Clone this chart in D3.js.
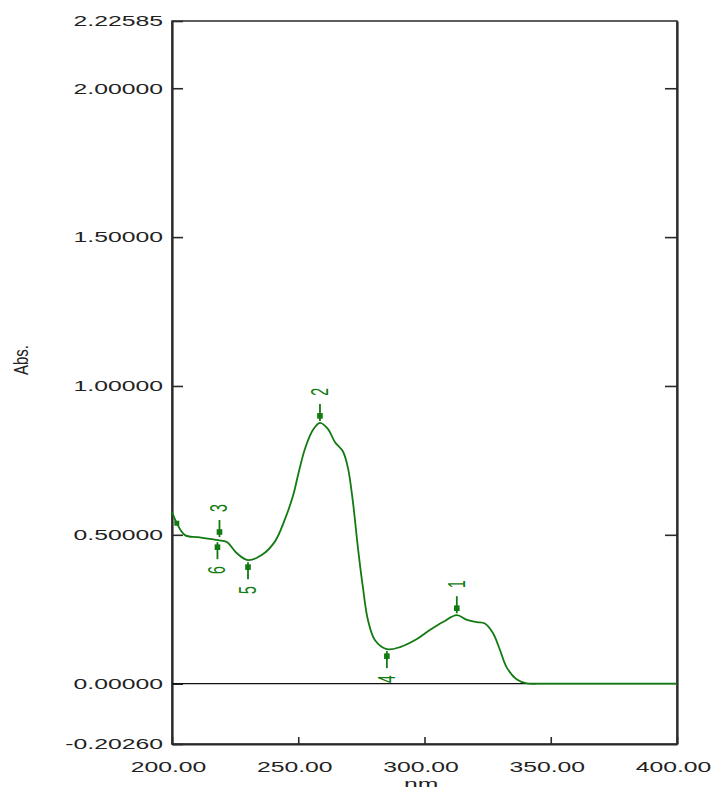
<html>
<head>
  <meta charset="utf-8">
  <title>Abs spectrum</title>
  <script src="https://cdn.jsdelivr.net/npm/d3@7"></script>
  <style>
    body { margin: 0; background: #fff; }
    text { font-family: "Liberation Sans", Arial, sans-serif; }
  </style>
</head>
<body>
  <svg id="chart" width="711" height="787"></svg>
  <script>
    // spectrum
    var wavelength = [200, 201.9, 205.1, 210.3, 218.2, 221.7, 225.6, 230.1, 235.5, 240.8, 244.7, 247.9, 249.9,
      252.7, 255.8, 258.6, 261.8, 264.5, 267.7, 269.7, 271.7, 273.6, 275.6, 277.6, 280.4, 285.1, 290.3, 297.0,
      302.1, 307.3, 312.8, 316.8, 320.7, 323.9, 327.1, 329.9, 332.6, 336.6, 340.5, 345, 350, 400];
    var absorbance = [0.577, 0.539, 0.499, 0.492, 0.482, 0.476, 0.439, 0.415, 0.432, 0.478, 0.552, 0.630, 0.700,
      0.790, 0.852, 0.876, 0.855, 0.812, 0.780, 0.724, 0.607, 0.459, 0.324, 0.214, 0.146, 0.116, 0.123, 0.150,
      0.180, 0.207, 0.230, 0.214, 0.207, 0.202, 0.170, 0.113, 0.054, 0.014, 0.001, 0, 0, 0];

    // picked peaks / valleys
    var peakNo = ["1", "2", "3", "4", "5", "6"];
    var peakNm = [312.8, 258.6, 218.8, 285.1, 230.1, 218.0];
    var peakAbs = [0.230, 0.876, 0.486, 0.116, 0.415, 0.482];
    var peakKind = ["peak", "peak", "peak", "valley", "valley", "valley"];

    var yTicks = [-0.2026, 0, 0.5, 1, 1.5, 2, 2.22585];
    var xTicks = [200, 250, 300, 350, 400];

    var plotL = 172, plotR = 677, plotT = 21, plotB = 744;
    var green = "#117a11", axisCol = "#2a2a2a";
    var sx = 1.65; // the old raster is stretched sideways

    var svg = d3.select("#chart");

    var x = d3.scaleLinear().domain([200, 400]).range([plotL, plotR]);
    var y = d3.scaleLinear().domain([-0.2026, 2.22585]).range([plotB, plotT]);

    // frame
    svg.append("rect")
      .attr("x", plotL).attr("y", plotT)
      .attr("width", plotR - plotL).attr("height", plotB - plotT)
      .attr("fill", "none").attr("stroke", axisCol).attr("stroke-width", 1.5);

    var yAxis = svg.append("g")
      .attr("transform", "translate(" + plotL + ",0)")
      .call(d3.axisLeft(y).tickValues(yTicks).tickFormat(function (d) { return d.toFixed(5); })
        .tickSize(-11).tickSizeOuter(0).tickPadding(9));

    svg.append("g")
      .attr("transform", "translate(" + plotR + ",0)")
      .call(d3.axisRight(y).tickValues([0.5, 1, 1.5, 2]).tickFormat("")
        .tickSize(-12).tickSizeOuter(0));

    var xAxis = svg.append("g")
      .attr("transform", "translate(0," + plotB + ")")
      .call(d3.axisBottom(x).tickValues(xTicks).tickFormat(function (d) { return d.toFixed(2); })
        .tickSize(-7).tickSizeOuter(0).tickPadding(17));

    svg.selectAll(".domain").attr("stroke", axisCol).attr("stroke-width", 2.2);
    svg.selectAll(".tick line").attr("stroke", axisCol).attr("stroke-width", 1.6);

    yAxis.selectAll("text")
      .attr("font-size", 15).attr("fill", "#222")
      .attr("x", -9 / sx)
      .attr("transform", "scale(" + sx + ",1)");

    xAxis.selectAll("text")
      .attr("font-size", 15).attr("fill", "#222")
      .attr("x", -4 / sx)
      .attr("transform", "scale(" + sx + ",1)");

    // zero line
    svg.append("line")
      .attr("x1", plotL).attr("x2", plotR)
      .attr("y1", y(0)).attr("y2", y(0))
      .attr("stroke", "#111").attr("stroke-width", 1.2);

    // axis titles
    svg.append("text")
      .attr("transform", "translate(21,360) scale(1.4,1) rotate(-90)")
      .attr("text-anchor", "middle")
      .attr("dominant-baseline", "central")
      .attr("font-size", 15).attr("fill", "#222")
      .text("Abs.");

    svg.append("text")
      .attr("transform", "translate(" + (plotL + plotR) / 2 + ",789) scale(" + sx + ",1)")
      .attr("text-anchor", "middle")
      .attr("font-size", 15).attr("fill", "#222")
      .text("nm.");

    // spectrum
    var line = d3.line()
      .x(function (d, i) { return x(wavelength[i]); })
      .y(function (d) { return y(d); })
      .curve(d3.curveCatmullRom.alpha(0.5));

    svg.append("path")
      .datum(absorbance)
      .attr("d", line)
      .attr("fill", "none")
      .attr("stroke", green)
      .attr("stroke-width", 1.8);

    // little marker at the start of the scan
    svg.append("rect")
      .attr("x", x(wavelength[1]) - 2.5).attr("y", y(absorbance[1]) - 2.5)
      .attr("width", 5).attr("height", 5)
      .attr("fill", green);

    // peak / valley pick marks
    var marks = svg.append("g").selectAll("g")
      .data(peakNo)
      .enter()
      .append("g")
      .attr("transform", function (d, i) {
        return "translate(" + x(peakNm[i]) + "," + y(peakAbs[i]) + ")";
      });

    marks.append("line")
      .attr("x1", 0).attr("x2", 0)
      .attr("y1", function (d, i) { return peakKind[i] == "peak" ? -2 : 2; })
      .attr("y2", function (d, i) { return peakKind[i] == "peak" ? -19 : 19; })
      .attr("stroke", green).attr("stroke-width", 1.8);

    marks.append("rect")
      .attr("x", -2.8)
      .attr("y", function (d, i) { return (peakKind[i] == "peak" ? -7 : 7) - 2.8; })
      .attr("width", 5.6).attr("height", 5.6)
      .attr("fill", green);

    marks.append("text")
      .attr("transform", function (d, i) {
        var dy = peakKind[i] == "peak" ? -31 : 30;
        return "translate(0," + dy + ") scale(" + sx + ",1) rotate(-90)";
      })
      .attr("text-anchor", "middle")
      .attr("dominant-baseline", "central")
      .attr("font-size", 14)
      .attr("fill", green)
      .text(function (d) { return d; });
  </script>
</body>
</html>
